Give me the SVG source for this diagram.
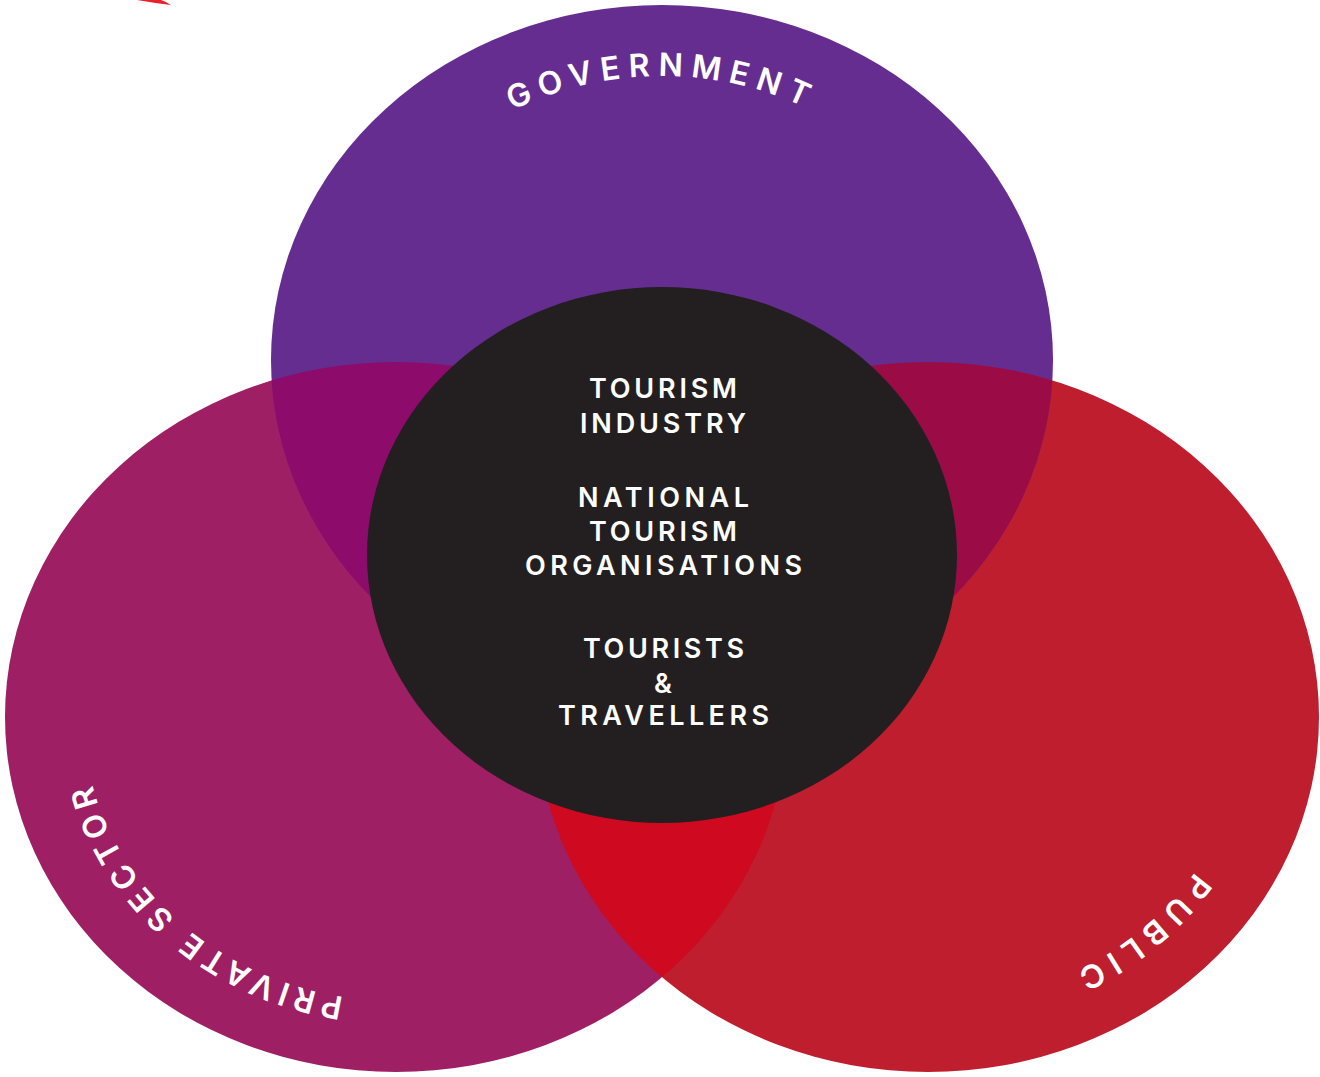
<svg xmlns="http://www.w3.org/2000/svg" width="1320" height="1077" viewBox="0 0 1320 1077">
  <style>
    .lbl { font-family: Inter, "Liberation Sans", Arial, sans-serif; font-size: 32px; font-weight: 600; fill: #ffffff; letter-spacing: 8px; }
    .lbl-priv { letter-spacing: 6px; }
    .ctr { font-family: Inter, "Liberation Sans", Arial, sans-serif; font-size: 27px; fill: #ffffff; font-weight: 600; }
  </style>
  <defs>
    <clipPath id="clipGov"><ellipse cx="662" cy="360" rx="391" ry="355"/></clipPath>
    <clipPath id="clipPriv"><ellipse cx="396" cy="717" rx="391" ry="355"/></clipPath>
    <path id="arcGov" d="M 510.4 111.6 A 312.8 284 0 0 1 813.6 111.6"/>
    <path id="arcPriv" d="M 347.1 997.5 A 312.8 284 0 0 1 90.0 776.0"/>
    <path id="arcPub" d="M 1193.6 873.6 A 316.7 287.6 0 0 1 1071.8 973.3"/>
  </defs>
  <rect width="1320" height="1077" fill="#ffffff"/>
  <path d="M137,0 L161,0 Q167,2 171,5 Q154,3 137,0 Z" fill="#e8202a"/>

  <g id="node-private">
    <ellipse cx="396" cy="717" rx="391" ry="355" fill="#9e1f63"/>
  </g>
  <g id="node-public">
    <ellipse cx="928" cy="717" rx="391" ry="355" fill="#be1e2d"/>
  </g>
  <g id="node-government">
    <ellipse cx="662" cy="360" rx="391" ry="355" fill="#662d91"/>
  </g>
  <g id="overlaps">
    <ellipse cx="396" cy="717" rx="391" ry="355" fill="#8c0b6b" clip-path="url(#clipGov)"/>
    <ellipse cx="928" cy="717" rx="391" ry="355" fill="#9b0c47" clip-path="url(#clipGov)"/>
    <ellipse cx="928" cy="717" rx="391" ry="355" fill="#cf0a20" clip-path="url(#clipPriv)"/>
  </g>
  <g id="labels">
    <text class="lbl"><textPath href="#arcGov" startOffset="50%" text-anchor="middle">GOVERNMENT</textPath></text>
    <text class="lbl lbl-priv"><textPath href="#arcPriv" startOffset="50%" text-anchor="middle">PRIVATE SECTOR</textPath></text>
    <text class="lbl"><textPath href="#arcPub" startOffset="50%" text-anchor="middle">PUBLIC</textPath></text>
  </g>
  <g id="node-center">
    <ellipse cx="662" cy="555" rx="295" ry="268" fill="#231f20"/>
    <text class="ctr" x="589" y="398" textLength="148" lengthAdjust="spacing">TOURISM</text>
    <text class="ctr" x="580" y="433" textLength="166" lengthAdjust="spacing">INDUSTRY</text>
    <text class="ctr" x="578" y="507" textLength="171" lengthAdjust="spacing">NATIONAL</text>
    <text class="ctr" x="589" y="541" textLength="148" lengthAdjust="spacing">TOURISM</text>
    <text class="ctr" x="525" y="575" textLength="277" lengthAdjust="spacing">ORGANISATIONS</text>
    <text class="ctr" x="583" y="658" textLength="161" lengthAdjust="spacing">TOURISTS</text>
    <text class="ctr" x="663" y="693" text-anchor="middle">&amp;</text>
    <text class="ctr" x="558" y="725" textLength="211" lengthAdjust="spacing">TRAVELLERS</text>
  </g>
  <g id="connectors"/>
</svg>
